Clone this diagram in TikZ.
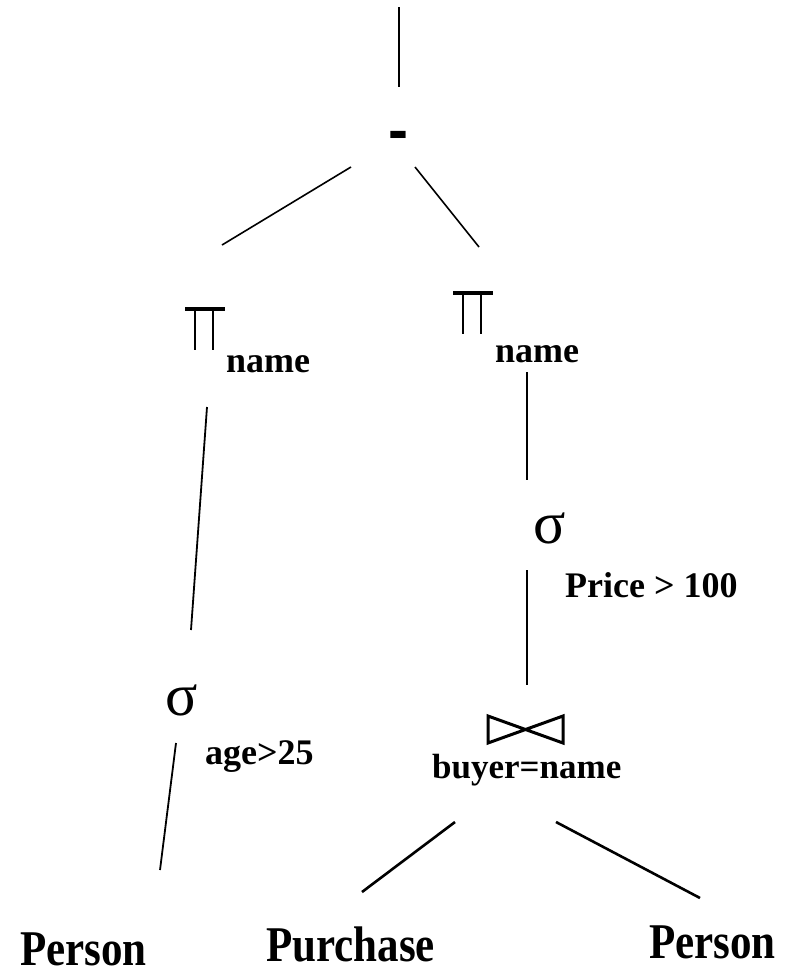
\documentclass[tikz,border=0pt]{standalone}
\usepackage{fontspec}
\setmainfont{Liberation Serif}
\newfontfamily\symsans{Liberation Sans}
\newfontfamily\symserif{Liberation Serif}
\begin{document}
\begin{tikzpicture}[x=1pt,y=-1pt,
  lbl/.style={font=\fontsize{36}{40}\selectfont\bfseries, inner sep=0pt, anchor=base west},
  rel/.style={font=\fontsize{50}{56}\selectfont\bfseries, inner sep=0pt, anchor=base west},
  opsym/.style={inner sep=0pt, anchor=center},
  sig/.style={font=\fontsize{60}{66}\selectfont\symserif, inner sep=0pt, anchor=base},
  edge/.style={line width=2.2pt},
  pisign/.pic={
    \draw[line width=3.4pt] (-20,-20.5) -- (20,-20.5);
    \draw[line width=2.8pt] (-10,-20.5) -- (-10,20.5);
    \draw[line width=2.8pt] (8,-20.5) -- (8,20.5);
  },
  bowtie/.pic={
    \draw[line width=3pt, line join=miter] (-37.5,-13.5) -- (37.5,13.5) -- (37.5,-13.5) -- (-37.5,13.5) -- cycle;
  }]
\useasboundingbox (0,0) rectangle (786,975);

% operators
\node[opsym, font=\fontsize{60}{66}\selectfont\symsans\bfseries] (minus) at (398,141) {-};
\pic (pil) at (205,329.5) {pisign};
\node[lbl] (namel) at (226,372) {name};
\pic (pir) at (473,313.5) {pisign};
\node[lbl] (namer) at (495,362) {name};
\node[sig] (sgr) at (550,543) {σ};
\node[lbl] (price) at (565,597) {Price > 100};
\node[sig] (sgl) at (182,715) {σ};
\node[lbl] (age) at (205,764) {age>25};
\pic (join) at (525.5,729.5) {bowtie};
\node[lbl, font=\fontsize{35}{40}\selectfont\bfseries] (cond) at (432,778) {buyer=name};
\node[rel] (pers1) at (20,965) {\scalebox{0.86}[1]{Person}};
\node[rel] (purch) at (266,961) {\scalebox{0.86}[1]{Purchase}};
\node[rel] (pers2) at (649,958) {\scalebox{0.86}[1]{Person}};

% connector end points
\coordinate (top) at (399,7);
\coordinate (topb) at (399,87);
\coordinate (m1) at (351,167);
\coordinate (p1) at (222,245);
\coordinate (m2) at (415,167);
\coordinate (p2) at (479,247);
\coordinate (pl1) at (207,407);
\coordinate (sl1) at (191,630);
\coordinate (pr1) at (527,372);
\coordinate (sr1) at (527,480);
\coordinate (sr2) at (527,570);
\coordinate (j1) at (527,685);
\coordinate (sl2) at (176,743);
\coordinate (pe1) at (160,870);
\coordinate (j2) at (455,822);
\coordinate (pu) at (362,892);
\coordinate (j3) at (556,822);
\coordinate (pe2) at (700,898);

\draw[edge, line width=2.6pt] (top) -- (topb);
\draw[edge, line width=1.6pt] (m1) -- (p1);
\draw[edge, line width=1.6pt] (m2) -- (p2);
\draw[edge, line width=1.8pt] (pl1) -- (sl1);
\draw[edge, line width=2.6pt] (pr1) -- (sr1);
\draw[edge, line width=2.6pt] (sr2) -- (j1);
\draw[edge, line width=1.8pt] (sl2) -- (pe1);
\draw[edge, line width=2.6pt] (j2) -- (pu);
\draw[edge, line width=2.6pt] (j3) -- (pe2);
\end{tikzpicture}
\end{document}
